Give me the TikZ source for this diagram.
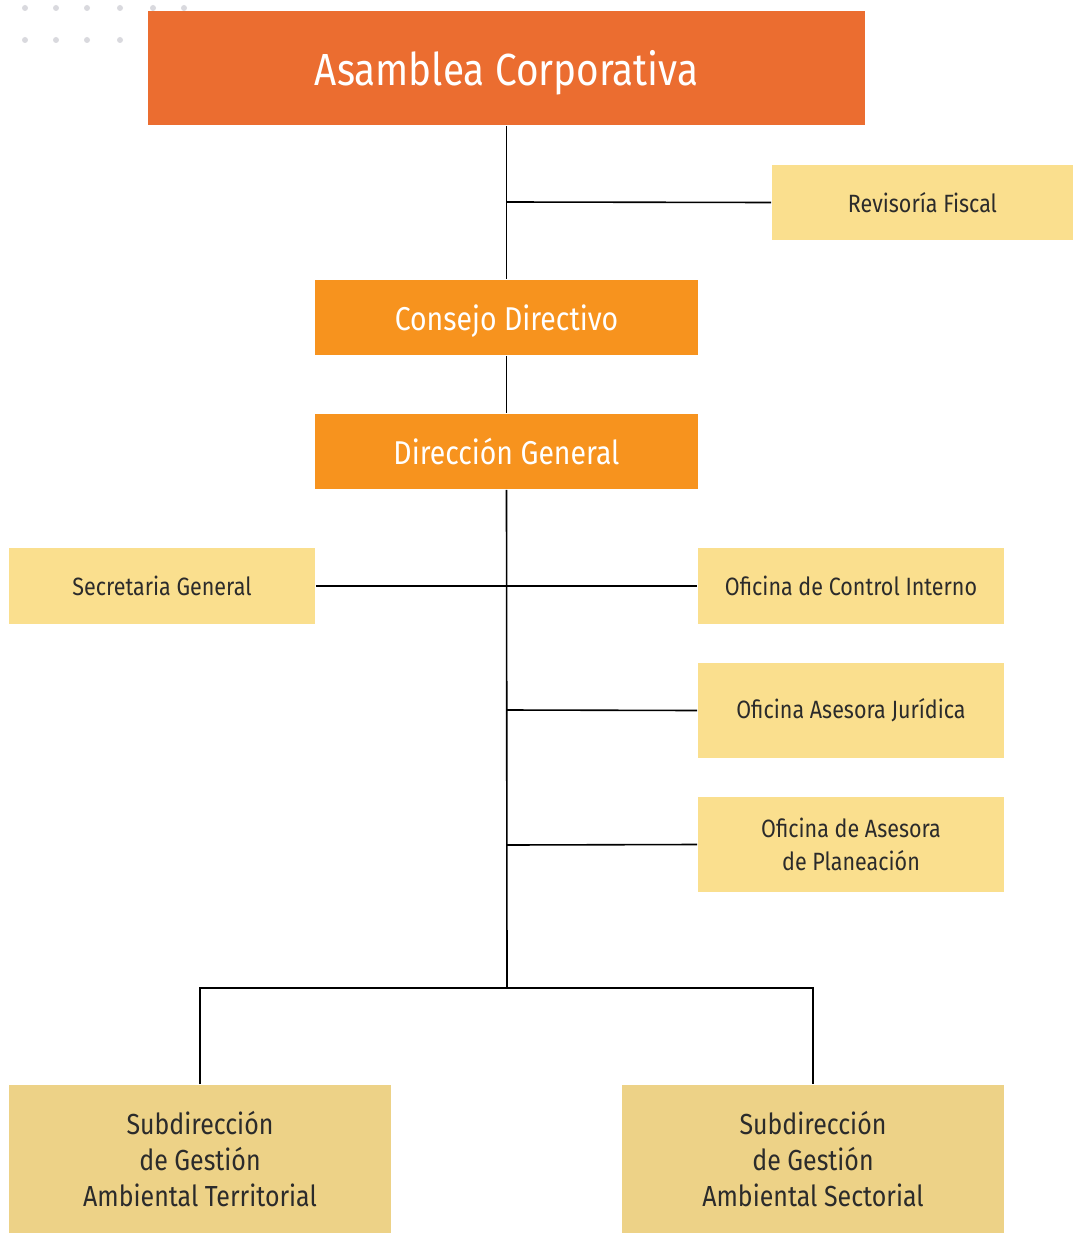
\documentclass[tikz,border=0pt]{standalone}
\usepackage{fontspec}
\setmainfont{Fira Sans}[FakeStretch=0.86]
\usepackage{tikz}
\usetikzlibrary{positioning}

\definecolor{asambleaorange}{HTML}{EB6D30}
\definecolor{mainorange}{HTML}{F7931E}
\definecolor{paleyellow}{HTML}{FADF8E}
\definecolor{sandyellow}{HTML}{EDD287}
\definecolor{dotgray}{HTML}{D9D9DE}
\definecolor{textdark}{HTML}{2B2B2B}

\begin{document}
\begin{tikzpicture}[x=1pt, y=-1pt, line width=1.6pt]
    \tikzstyle{top} = [fill=asambleaorange, text=white, minimum width=717pt,
	minimum height=114pt, inner sep=0pt, text depth=0pt,
	font=\fontsize{45}{50}\selectfont]
    \tikzstyle{boss} = [fill=mainorange, text=white, minimum width=383pt,
	minimum height=75pt, inner sep=0pt, text depth=0pt,
	font=\fontsize{33}{38}\selectfont]
    \tikzstyle{office} = [fill=paleyellow, text=textdark, minimum width=306pt,
	minimum height=76pt, inner sep=0pt, align=center,
	font=\fontsize{25}{33}\selectfont]
    \tikzstyle{subdir} = [fill=sandyellow, text=textdark, minimum width=382pt,
	minimum height=148pt, inner sep=0pt, align=center,
	font=\fontsize{29}{36}\selectfont]

	\useasboundingbox (0,0) rectangle (1073,1233);

	% dots
	\foreach \x in {25,56,87,120,153,184}
		\fill[dotgray] (\x,8) circle (3pt);
	\foreach \x in {25,56,87,120}
		\fill[dotgray] (\x,40) circle (3pt);

	\node[top] (asamblea) at (506.5,68) {Asamblea Corporativa};
	\node[office, minimum width=301pt, minimum height=75pt] (revisoria)
		at (922.5,202.5) {Revisoría Fiscal};
	\node[boss] (consejo) at (506.5,317.5) {Consejo Directivo};
	\node[boss] (direccion) at (506.5,451.5) {Dirección General};

	\node[office] (secretaria) at (162,586) {Secretaria General};
	\node[office] (control) at (851,586) {Oficina de Control Interno};
	\node[office, minimum height=95pt] (juridica) at (851,710.5)
		{Oficina Asesora Jurídica};
	\node[office, minimum height=95pt] (planeacion) at (851,844.5)
		{Oficina de Asesora\\de Planeación};

	\node[subdir] (territorial) at (200,1159)
		{Subdirección\\de Gestión\\Ambiental Territorial};
	\node[subdir] (sectorial) at (813,1159)
		{Subdirección\\de Gestión\\Ambiental Sectorial};

	\coordinate (j1) at (507,202);
	\coordinate (j2) at (507,710);
	\coordinate (j3) at (507,845);
	\coordinate (j4) at (507,988);

	\draw (asamblea.south) -- (consejo.north);
	\draw (j1) -- (revisoria.west);
	\draw (consejo.south) -- (direccion.north);
	\draw (direccion.south) -- (j4);
	\draw (secretaria.east) -- (control.west);
	\draw (j2) -- (juridica.west);
	\draw (j3) -- (planeacion.west);
	\draw (territorial.north) |- (j4) -| (sectorial.north);
\end{tikzpicture}
\end{document}
